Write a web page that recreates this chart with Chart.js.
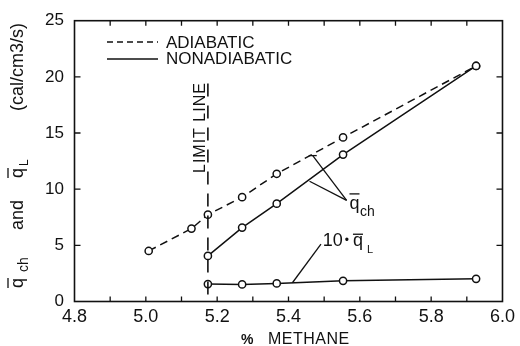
<!DOCTYPE html>
<html><head><meta charset="utf-8">
<script src="https://cdn.jsdelivr.net/npm/chart.js@4"></script>
<style>html,body{margin:0;padding:0;background:#fff}#wrap{width:520px;height:346px}</style>
</head><body><div id="wrap"><canvas id="c" width="520" height="346"></canvas></div>
<script>
// ---- data ----
const methaneAdiabatic = [5.008, 5.128, 5.174, 5.27, 5.367, 5.553, 5.926];
const qAdiabatic       = [4.50, 6.49, 7.73, 9.29, 11.37, 14.61, 20.97];
const methaneNonadiabatic = [5.174, 5.27, 5.367, 5.553, 5.926];
const qNonadiabatic       = [4.06, 6.58, 8.71, 13.08, 20.97];
const qL10                = [1.55, 1.52, 1.61, 1.84, 2.02];
const limitMethane = 5.174;
const limitLineY = [19.4, 0];
const xTickLabels = [4.8, 5.0, 5.2, 5.4, 5.6, 5.8, 6.0];
const yTickLabels = [0, 5, 10, 15, 20, 25];
const xMinorStep = 0.1;

// annotation anchors in data units
const chLeaderEnds = [[5.468, 12.99], [5.459, 10.71]];
const chLeaderTip = [5.563, 9.0];
const chLabelAt = [5.571, 8.2];
const qlLeader = [[5.491, 5.10], [5.411, 1.67]];
const qlLabelAt = [5.496, 4.92];

const FONT = '"Liberation Sans", Arial, Helvetica, sans-serif';
const INK = '#111';

const pts = (xs, ys) => xs.map((x, i) => ({x, y: ys[i]}));

const frameTicks = {
  id: 'frameTicks',
  afterDatasetsDraw(chart) {
    const {ctx, chartArea: a, scales: {x, y}} = chart;
    ctx.save();
    ctx.strokeStyle = INK;
    ctx.lineWidth = 1.6;
    ctx.strokeRect(a.left, a.top, a.right - a.left, a.bottom - a.top);
    ctx.lineWidth = 1.3;
    const n = Math.round((x.max - x.min) / xMinorStep);
    for (let i = 1; i < n; i++) {
      const px = x.getPixelForValue(x.min + i * xMinorStep);
      ctx.beginPath();
      ctx.moveTo(px, a.bottom); ctx.lineTo(px, a.bottom - 5);
      ctx.moveTo(px, a.top); ctx.lineTo(px, a.top + 5);
      ctx.stroke();
    }
    yTickLabels.slice(1, -1).forEach(v => {
      const py = y.getPixelForValue(v);
      ctx.beginPath();
      ctx.moveTo(a.left, py); ctx.lineTo(a.left + 6, py);
      ctx.moveTo(a.right, py); ctx.lineTo(a.right - 6, py);
      ctx.stroke();
    });
    ctx.restore();
  }
};

function rotText(ctx, text, font, baseX, startY, shift) {
  ctx.save();
  ctx.font = font;
  ctx.translate(baseX + (shift || 0), startY);
  ctx.rotate(-Math.PI / 2);
  ctx.textAlign = 'left';
  ctx.textBaseline = 'alphabetic';
  ctx.fillText(text, 0, 0);
  const w = ctx.measureText(text).width;
  ctx.restore();
  return w;
}

const texts = {
  id: 'texts',
  afterDraw(chart) {
    const {ctx, scales: {x, y}} = chart;
    ctx.save();
    ctx.fillStyle = INK;
    ctx.strokeStyle = INK;
    // ---- legend ----
    ctx.lineWidth = 1.5;
    ctx.setLineDash([6, 4]);
    ctx.beginPath(); ctx.moveTo(107, 42); ctx.lineTo(158, 42); ctx.stroke();
    ctx.setLineDash([]);
    ctx.beginPath(); ctx.moveTo(107, 59); ctx.lineTo(158, 59); ctx.stroke();
    ctx.font = '17px ' + FONT;
    ctx.textBaseline = 'alphabetic';
    ctx.fillText('ADIABATIC', 166, 47.5);
    ctx.fillText('NONADIABATIC', 166, 64);

    // ---- limit line label ----
    ctx.save();
    ctx.font = '16px ' + FONT;
    ctx.letterSpacing = '1px';
    ctx.translate(204.5, 173);
    ctx.rotate(-Math.PI / 2);
    ctx.fillText('LIMIT LINE', 0, 0);
    ctx.restore();

    // ---- y axis title (rotated) ----
    const bx = 23;
    ctx.lineWidth = 1.3;
    let w = rotText(ctx, 'q', '18px ' + FONT, bx, 288);
    ctx.beginPath(); ctx.moveTo(bx - 15, 288); ctx.lineTo(bx - 15, 288 - w); ctx.stroke();
    rotText(ctx, 'ch', '14px ' + FONT, bx, 272, 5);
    rotText(ctx, 'and', '18px ' + FONT, bx, 230);
    w = rotText(ctx, 'q', '18px ' + FONT, bx, 178);
    ctx.beginPath(); ctx.moveTo(bx - 15, 178); ctx.lineTo(bx - 15, 178 - w); ctx.stroke();
    rotText(ctx, 'L', '12px ' + FONT, bx, 166, 5);
    rotText(ctx, '(cal/cm3/s)', '18px ' + FONT, bx, 111);

    // ---- x axis title ----
    ctx.font = 'bold 14px ' + FONT;
    ctx.fillText('%', 241, 344);
    ctx.font = '16px ' + FONT;
    ctx.save(); ctx.letterSpacing = '0.5px'; ctx.fillText('METHANE', 268, 344); ctx.restore();

    // ---- q̄ch annotation ----
    ctx.lineWidth = 1.3;
    const tip = [x.getPixelForValue(chLeaderTip[0]), y.getPixelForValue(chLeaderTip[1])];
    chLeaderEnds.forEach(e => {
      ctx.beginPath();
      ctx.moveTo(x.getPixelForValue(e[0]), y.getPixelForValue(e[1]));
      ctx.lineTo(tip[0], tip[1]);
      ctx.stroke();
    });
    const bxp = x.getPixelForValue(chLeaderEnds[0][0]), byp = y.getPixelForValue(chLeaderEnds[0][1]);
    ctx.beginPath(); ctx.moveTo(bxp - 4, byp); ctx.lineTo(bxp + 4, byp); ctx.stroke();
    let lx = x.getPixelForValue(chLabelAt[0]), ly = y.getPixelForValue(chLabelAt[1]);
    ctx.font = '18px ' + FONT;
    ctx.fillText('q', lx, ly);
    w = ctx.measureText('q').width;
    ctx.beginPath(); ctx.moveTo(lx, ly - 15.5); ctx.lineTo(lx + w, ly - 15.5); ctx.stroke();
    ctx.font = '14px ' + FONT;
    ctx.fillText('ch', lx + w + 0.5, ly + 7);

    // ---- 10·q̄L annotation ----
    ctx.beginPath();
    ctx.moveTo(x.getPixelForValue(qlLeader[0][0]), y.getPixelForValue(qlLeader[0][1]));
    ctx.lineTo(x.getPixelForValue(qlLeader[1][0]), y.getPixelForValue(qlLeader[1][1]));
    ctx.stroke();
    lx = x.getPixelForValue(qlLabelAt[0]); ly = y.getPixelForValue(qlLabelAt[1]);
    ctx.font = '18px ' + FONT;
    ctx.fillText('10', lx, ly);
    let cx = lx + ctx.measureText('10').width;
    ctx.font = '12px ' + FONT;
    ctx.fillText('•', cx + 2, ly - 2);
    cx += 2 + ctx.measureText('•').width + 4;
    ctx.font = '18px ' + FONT;
    ctx.fillText('q', cx, ly);
    w = ctx.measureText('q').width;
    ctx.beginPath(); ctx.moveTo(cx, ly - 12); ctx.lineTo(cx + w, ly - 12); ctx.stroke();
    ctx.font = '11px ' + FONT;
    ctx.fillText('L', cx + w + 4, ly + 7);
    ctx.restore();
  }
};

const common = {
  showLine: true, borderColor: INK, borderWidth: 1.5, tension: 0,
  pointRadius: 3.6, pointBorderWidth: 1.5, pointBorderColor: INK,
  pointBackgroundColor: '#fff', pointHoverRadius: 3.6
};

new Chart(document.getElementById('c'), {
  type: 'scatter',
  data: {
    datasets: [
      { label: 'limit', data: limitLineY.map(v => ({x: limitMethane, y: v})), showLine: true,
        borderColor: INK, borderWidth: 1.6, borderDash: [13, 9], pointRadius: 0 },
      { ...common, label: 'ADIABATIC', data: pts(methaneAdiabatic, qAdiabatic), borderDash: [8, 5] },
      { ...common, label: 'NONADIABATIC', data: pts(methaneNonadiabatic, qNonadiabatic) },
      { ...common, label: '10·qL', data: pts(methaneNonadiabatic, qL10) }
    ]
  },
  options: {
    responsive: false, animation: false, devicePixelRatio: 1,
    layout: { padding: { left: 0, right: 10.5, top: 19.5, bottom: 0 } },
    plugins: { legend: { display: false }, tooltip: { enabled: false } },
    scales: {
      x: {
        type: 'linear', min: 4.8, max: 6.0,
        afterBuildTicks: s => { s.ticks = xTickLabels.map(v => ({value: v})); },
        afterFit: s => { s.height = 44.5; },
        grid: { display: false, drawTicks: false },
        border: { display: false },
        ticks: { color: INK, font: { size: 18, family: FONT }, padding: 5, maxRotation: 0, autoSkip: false,
          callback: v => Number(v).toFixed(1) }
      },
      y: {
        min: 0, max: 25,
        afterBuildTicks: s => { s.ticks = yTickLabels.map(v => ({value: v})); },
        afterFit: s => { s.width = 74.5; },
        grid: { display: false, drawTicks: false },
        border: { display: false },
        ticks: { color: INK, font: { size: 17, family: FONT }, padding: 10.5, autoSkip: false }
      }
    }
  },
  plugins: [frameTicks, texts]
});
</script></body></html>
